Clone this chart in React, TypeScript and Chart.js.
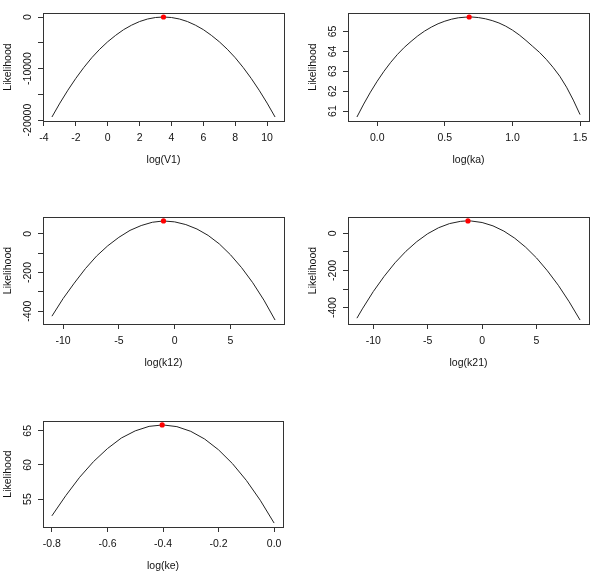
import React, { useEffect, useRef } from 'react';
import { Chart, registerables } from 'chart.js';

Chart.register(...registerables);

// ---------- data ----------
const v1X = [-3.5, -3, -2.5, -2, -1.5, -1, -0.5, 0, 0.5, 1, 1.5, 2, 2.5, 3, 3.5, 4, 4.5, 5, 5.5, 6, 6.5, 7, 7.5, 8, 8.5, 9, 9.5, 10, 10.5];
const v1Y = [-19400, -16700, -14200, -11900, -9800, -7900, -6250, -4800, -3550, -2450, -1580, -880, -390, -100, 0, -100, -390, -880, -1580, -2450, -3550, -4800, -6250, -7900, -9800, -11900, -14200, -16700, -19400];
const v1Best = [3.5, 0];
const v1XTicks = [-4, -2, 0, 2, 4, 6, 8, 10];
const v1XLabels = ['-4', '-2', '0', '2', '4', '6', '8', '10'];
const v1YTicks = [0, -5000, -10000, -15000, -20000];
const v1YLabels = ['0', '', '-10000', '', '-20000'];

const kaX = [-0.15, -0.1, -0.05, 0, 0.05, 0.1, 0.15, 0.2, 0.25, 0.3, 0.35, 0.4, 0.45, 0.5, 0.55, 0.6, 0.65, 0.7, 0.75, 0.8, 0.85, 0.9, 0.95, 1.0, 1.05, 1.1, 1.15, 1.2, 1.25, 1.3, 1.35, 1.4, 1.45, 1.5];
const kaY = [60.70, 61.35, 61.95, 62.5, 63.0, 63.45, 63.85, 64.2, 64.5, 64.78, 65.02, 65.22, 65.39, 65.52, 65.62, 65.69, 65.72, 65.73, 65.70, 65.64, 65.55, 65.43, 65.27, 65.07, 64.83, 64.55, 64.25, 63.95, 63.6, 63.2, 62.75, 62.2, 61.55, 60.82];
const kaBest = [0.68, 65.73];
const kaXTicks = [0, 0.5, 1, 1.5];
const kaXLabels = ['0.0', '0.5', '1.0', '1.5'];
const kaYTicks = [61, 62, 63, 64, 65];
const kaYLabels = ['61', '62', '63', '64', '65'];

const k12X = [-11, -10, -9, -8, -7, -6, -5, -4, -3, -2, -1, 0, 1, 2, 3, 4, 5, 6, 7, 8, 9];
const k12Y = [-426, -335, -255, -180, -115, -62, -18, 18, 43, 60, 66.7, 62, 48, 25, -8, -52, -108, -175, -253, -343, -446];
const k12Best = [-1, 66.7];
const k12XTicks = [-10, -5, 0, 5];
const k12XLabels = ['-10', '-5', '0', '5'];
const k12YTicks = [0, -100, -200, -300, -400];
const k12YLabels = ['0', '', '-200', '', '-400'];

const k21X = [-11.5, -11, -10, -9, -8, -7, -6, -5, -4, -3, -2, -1.5, -1, 0, 1, 2, 3, 4, 5, 6, 7, 8, 9];
const k21Y = [-457, -407, -314, -232, -159, -97, -45, -2.5, 29.7, 51.9, 63.9, 66.2, 66.0, 57.9, 39.8, 11.6, -26.6, -74.9, -133, -202, -280, -369, -467];
const k21Best = [-1.3, 66.4];
const k21XTicks = [-10, -5, 0, 5];
const k21XLabels = ['-10', '-5', '0', '5'];
const k21YTicks = [0, -100, -200, -300, -400];
const k21YLabels = ['0', '', '-200', '', '-400'];

const keX = [-0.8, -0.75, -0.7, -0.65, -0.6, -0.55, -0.5, -0.45, -0.4, -0.35, -0.3, -0.25, -0.2, -0.15, -0.1, -0.05, 0];
const keY = [52.54, 55.5, 58.2, 60.5, 62.4, 63.95, 65.0, 65.66, 65.87, 65.62, 64.93, 63.80, 62.22, 60.20, 57.74, 54.83, 51.48];
const keBest = [-0.403, 65.87];
const keXTicks = [-0.8, -0.6, -0.4, -0.2, 0];
const keXLabels = ['-0.8', '-0.6', '-0.4', '-0.2', '0.0'];
const keYTicks = [55, 60, 65];
const keYLabels = ['55', '60', '65'];

// ---------- layout / style ----------
const FONT_FAMILY = "'Liberation Sans', Arial, Helvetica, sans-serif";
const FONT_SIZE = 10.5;
const TEXT = '#111';
const AXIS = '#333';
const Y_AXIS_W = 41;
const X_AXIS_H = 45;

type Box = { l: number; t: number; r: number; b: number; colX: number };

type PanelCfg = {
  xs: number[]; ys: number[]; best: number[];
  xTicks: number[]; xLabels: string[]; yTicks: number[]; yLabels: string[];
  xTitle: string; box: Box;
};

const panels: PanelCfg[] = [
  { xs: v1X, ys: v1Y, best: v1Best, xTicks: v1XTicks, xLabels: v1XLabels, yTicks: v1YTicks, yLabels: v1YLabels, xTitle: 'log(V1)', box: { l: 43, t: 13, r: 284, b: 121, colX: 0 } },
  { xs: kaX, ys: kaY, best: kaBest, xTicks: kaXTicks, xLabels: kaXLabels, yTicks: kaYTicks, yLabels: kaYLabels, xTitle: 'log(ka)', box: { l: 348, t: 13, r: 589, b: 121, colX: 300 } },
  { xs: k12X, ys: k12Y, best: k12Best, xTicks: k12XTicks, xLabels: k12XLabels, yTicks: k12YTicks, yLabels: k12YLabels, xTitle: 'log(k12)', box: { l: 43, t: 217, r: 284, b: 324, colX: 0 } },
  { xs: k21X, ys: k21Y, best: k21Best, xTicks: k21XTicks, xLabels: k21XLabels, yTicks: k21YTicks, yLabels: k21YLabels, xTitle: 'log(k21)', box: { l: 348, t: 217, r: 589, b: 324, colX: 300 } },
  { xs: keX, ys: keY, best: keBest, xTicks: keXTicks, xLabels: keXLabels, yTicks: keYTicks, yLabels: keYLabels, xTitle: 'log(ke)', box: { l: 43, t: 421, r: 283, b: 527, colX: 0 } },
];

function extend(vals: number[]) {
  const lo = Math.min(...vals);
  const hi = Math.max(...vals);
  const d = (hi - lo) * 0.04;
  return [lo - d, hi + d];
}

function Panel({ cfg }: { cfg: PanelCfg }) {
  const ref = useRef<HTMLCanvasElement>(null);
  const { box } = cfg;
  const top = box.t - 13;
  const height = box.b - top + X_AXIS_H + 2;

  useEffect(() => {
    if (!ref.current) return;
    const [xMin, xMax] = extend(cfg.xs);
    const [yMin, yMax] = extend(cfg.ys);
    const font = { family: FONT_FAMILY, size: FONT_SIZE };

    const frame = {
      id: 'rframe',
      afterDraw(chart: any) {
        const { ctx, chartArea } = chart;
        const ys = chart.scales.y;
        ctx.save();
        ctx.strokeStyle = AXIS;
        ctx.lineWidth = 1;
        const L = Math.round(chartArea.left) + 0.5;
        const T = Math.round(chartArea.top) + 0.5;
        const R = Math.round(chartArea.right) + 0.5;
        const B = Math.round(chartArea.bottom) + 0.5;
        ctx.strokeRect(L, T, R - L, B - T);
        ctx.fillStyle = TEXT;
        ctx.font = `${FONT_SIZE}px ${FONT_FAMILY}`;
        ctx.textAlign = 'center';
        ctx.textBaseline = 'middle';
        cfg.yTicks.forEach((v, i) => {
          const lab = cfg.yLabels[i];
          if (!lab) return;
          const py = ys.getPixelForValue(v);
          ctx.save();
          ctx.translate(chartArea.left - 14.5, py);
          ctx.rotate(-Math.PI / 2);
          ctx.fillText(lab, 0, 0);
          ctx.restore();
        });
        ctx.restore();
      },
    };

    const grid = { display: true, drawOnChartArea: false, drawTicks: true, tickLength: 5, color: AXIS, lineWidth: 1 };
    const border = { display: true, color: AXIS, width: 1 };

    const chart = new Chart(ref.current, {
      type: 'line',
      data: {
        datasets: [
          {
            type: 'scatter',
            data: [{ x: cfg.best[0], y: cfg.best[1] }],
            pointRadius: 2.6,
            pointBackgroundColor: '#ff0000',
            pointBorderColor: '#ff0000',
            pointBorderWidth: 0,
            showLine: false,
          } as any,
          {
            type: 'line',
            data: cfg.xs.map((x, i) => ({ x, y: cfg.ys[i] })),
            borderColor: '#222',
            borderWidth: 1,
            pointRadius: 0,
            tension: 0,
            fill: false,
          },
        ],
      },
      options: {
        animation: false,
        responsive: false,
        devicePixelRatio: 1,
        events: [],
        layout: {
          padding: { left: box.l - box.colX - Y_AXIS_W, top: 13, right: box.colX + 300 - box.r, bottom: 2 },
        },
        plugins: { legend: { display: false }, tooltip: { enabled: false }, title: { display: false } },
        scales: {
          x: {
            type: 'linear',
            position: 'bottom',
            min: xMin,
            max: xMax,
            afterBuildTicks: (s: any) => { s.ticks = cfg.xTicks.map((v) => ({ value: v })); },
            afterFit: (s: any) => { s.height = X_AXIS_H; },
            ticks: {
              autoSkip: false, maxRotation: 0, minRotation: 0, padding: 6, color: TEXT, font,
              callback: (_v: any, i: number) => cfg.xLabels[i],
            },
            grid, border,
            title: { display: true, text: cfg.xTitle, color: TEXT, font, padding: 0 },
          },
          y: {
            type: 'linear',
            position: 'left',
            min: yMin,
            max: yMax,
            afterBuildTicks: (s: any) => { s.ticks = cfg.yTicks.map((v) => ({ value: v })); },
            afterFit: (s: any) => { s.width = Y_AXIS_W; },
            ticks: { display: false },
            grid, border,
            title: { display: true, text: 'Likelihood', color: TEXT, font, padding: 0 },
          },
        },
      } as any,
      plugins: [frame],
    });
    return () => chart.destroy();
  }, []);

  return (
    <canvas
      ref={ref}
      width={300}
      height={height}
      style={{ position: 'absolute', left: box.colX, top, width: 300, height }}
    />
  );
}

export default function App() {
  return (
    <div style={{ position: 'fixed', left: 0, top: 0, width: 600, height: 577, background: '#fff', overflow: 'hidden' }}>
      {panels.map((p, i) => <Panel key={i} cfg={p} />)}
    </div>
  );
}
